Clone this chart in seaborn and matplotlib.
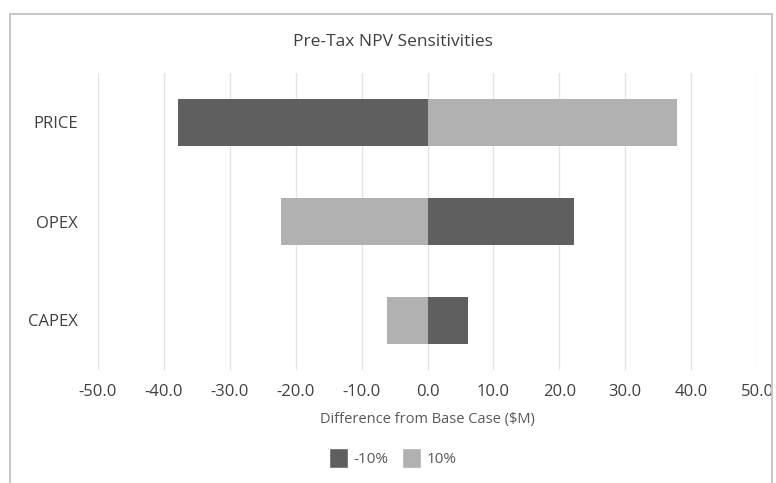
import pandas as pd
import seaborn as sns
import matplotlib.pyplot as plt
from matplotlib.patches import Rectangle, Patch

# Sensitivity data (difference from base case, $M)
categories = ['PRICE', 'OPEX', 'CAPEX']
minus_10 = [-37.8, 22.2, 6.2]
plus_10 = [37.8, -22.2, -6.2]
series = ['-10%', '10%']
ticks = [-50, -40, -30, -20, -10, 0, 10, 20, 30, 40, 50]

df = pd.DataFrame({
    'factor': categories * 2,
    'value': minus_10 + plus_10,
    'case': [series[0]] * 3 + [series[1]] * 3,
})

sns.set_style('white')
plt.rcParams['font.family'] = ['Open Sans', 'DejaVu Sans']

colors = {'-10%': '#5f5f5f', '10%': '#b1b1b1'}

fig = plt.figure(figsize=(7.76, 4.83), dpi=100)
ax = fig.add_axes([98 / 776, 113 / 483, 659 / 776, 297 / 483])

sns.barplot(data=df, y='factor', x='value', hue='case', order=categories,
            hue_order=series, palette=colors, dodge=False, width=0.48,
            orient='h', ax=ax, legend=False, saturation=1, linewidth=0)

ax.set_xlim(-50, 50)
ax.set_ylim(2.5, -0.5)
ax.set_xticks(ticks)
ax.set_xticklabels([f'{t:.1f}' for t in ticks], fontsize=12, color='#404040')
ax.tick_params(axis='y', labelsize=12, labelcolor='#404040', pad=14.5)
ax.tick_params(axis='x', pad=10)
ax.tick_params(length=0)
ax.xaxis.grid(True, color='#e4e4e4', linewidth=1)
ax.set_axisbelow(True)
for s in ax.spines.values():
    s.set_visible(False)
ax.set_ylabel('')
ax.set_xlabel('Difference from Base Case ($M)', fontsize=10.5, color='#595959', labelpad=9)

fig.text(393 / 776, 1 - 42 / 483, 'Pre-Tax NPV Sensitivities', ha='center', va='center',
         fontsize=12.5, color='#404040')

handles = [Patch(facecolor=colors[s], label=s) for s in series]
fig.legend(handles=handles, loc='center', bbox_to_anchor=(393 / 776, 1 - 458 / 483),
           ncol=2, frameon=False, fontsize=11, handlelength=1.2, handleheight=1.6,
           columnspacing=0.9, handletextpad=0.4, labelcolor='#595959')

# chart border
fig.patches.append(Rectangle((10 / 776, -0.1), 762 / 776, 1.1 - 14 / 483,
                             transform=fig.transFigure, fill=False,
                             edgecolor='#c8c8c8', linewidth=1.5))

fig.savefig('out.png', dpi=100)
